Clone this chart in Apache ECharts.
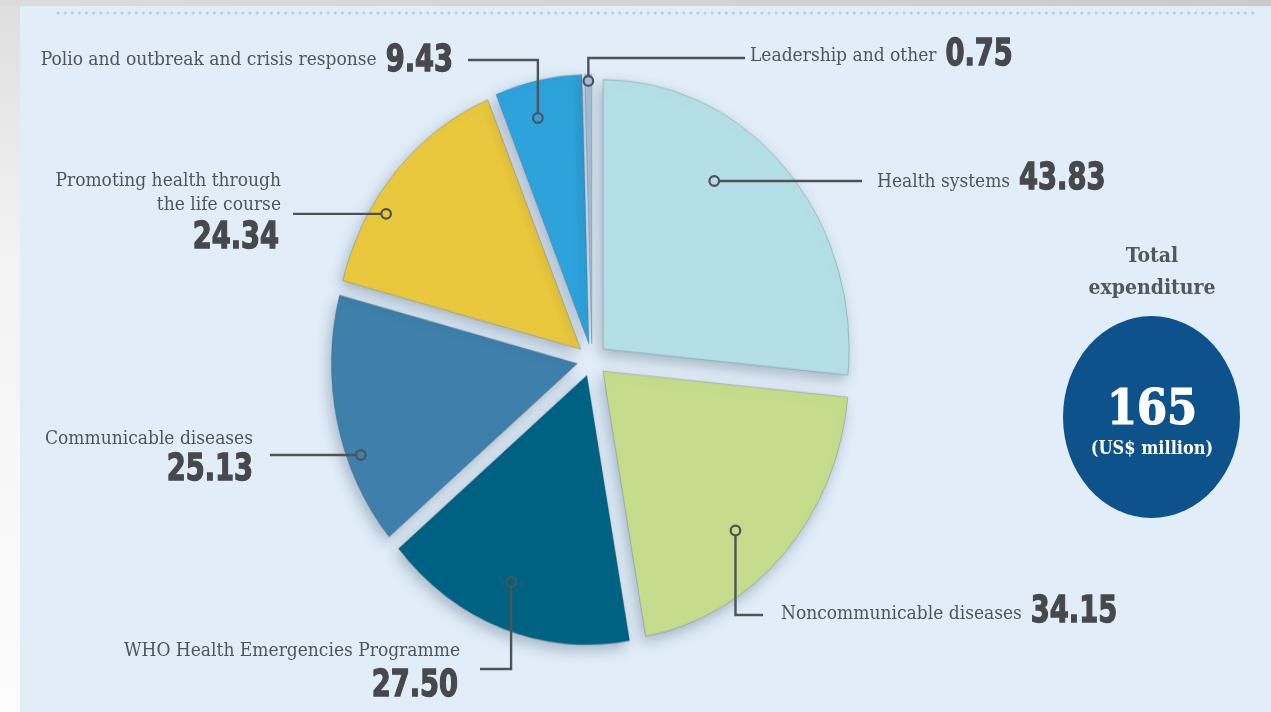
<!DOCTYPE html>
<html>
<head>
<meta charset="utf-8">
<title>Total expenditure by category</title>
<script src="https://cdn.jsdelivr.net/npm/echarts@6/dist/echarts.min.js"></script>
<style>
  html, body { margin: 0; padding: 0; width: 1271px; height: 712px; overflow: hidden; background: #ececec; }
  #bg {
    position: absolute; left: 0; top: 0; width: 1271px; height: 712px;
    background:
      linear-gradient(90deg, #dcdcdc 0px, #d2d2d2 60%, #cacaca 100%) top / 100% 6px no-repeat,
      linear-gradient(180deg, #dedede 0px, #f3f3f3 260px, #fcfcfc 712px) left / 20px 100% no-repeat,
      #e1eef9;
  }
  #pie, #overlay { position: absolute; left: 0; top: 0; width: 1271px; height: 712px; }
  /* the pie is drawn round, then stretched vertically into an ellipse */
  #pie { transform: scaleY(1.095); transform-origin: 592px 360px; }
</style>
</head>
<body>
<div id="bg"></div>
<div id="pie"></div>
<div id="overlay"></div>
<script>
// ---- data (US$ million) ----
const categories = [
  'Health systems',
  'Noncommunicable diseases',
  'WHO Health Emergencies Programme',
  'Communicable diseases',
  'Promoting health through the life course',
  'Polio and outbreak and crisis response',
  'Leadership and other'
];
const values = [43.83, 34.15, 27.50, 25.13, 24.34, 9.43, 0.75];
const totalLabel = '165';
const unitLabel = '(US$ million)';
const totalTitle = ['Total', 'expenditure'];

// ---- styling ----
const colors = ['#b4dfe7', '#c4dc8c', '#006283', '#3e80ab', '#e9c83e', '#2ea3db', '#a3bcd3'];
const CX = 592, CY = 360, R = 246, SY = 1.095, OFF = 15;
const TEXT_FONT = "'DejaVu Serif Condensed', 'DejaVu Serif', serif";
const NUM_FONT = "'DejaVu Sans Condensed', 'Liberation Sans Narrow', sans-serif";
const TEXT_SIZE = 19, NUM_SIZE = 37, NUM_SQUEEZE = 0.82, GAP = 9;
const TEXT_COLOR = '#515559', NUM_COLOR = '#47484b', LINE_COLOR = '#4e5358';

// where each leader line starts on its slice (fraction of the slice's sweep, fraction of radius)
// and how it runs out to its label
const leaderLayout = [
  { t: 0.376, f: 0.77, path: 'h', end: 862 },
  { t: 0.566, f: 0.80, path: 'v', elbow: 615, end: 763 },
  { t: 0.532, f: 0.826, path: 'v', elbow: 669, end: 480 },
  { t: 0.346, f: 0.943, path: 'h', end: 270 },
  { t: 0.333, f: 0.937, path: 'h', end: 293 },
  { t: 0.404, f: 0.864, path: 'v', elbow: 60, end: 468 },
  { t: 0.50, f: 0.975, path: 'v', elbow: 58, end: 745 }
];
// label placement: inline = name then value on one row; stacked = name row(s) with value below
const labelLayout = [
  { mode: 'inline', align: 'left', x: 877, y: 182, numY: 179 },
  { mode: 'inline', align: 'left', x: 781, y: 614, numY: 612 },
  { mode: 'stacked', x: 460, nameY: 651, lineGap: 24, numX: 458, numY: 686 },
  { mode: 'stacked', x: 253, nameY: 439, lineGap: 24, numX: 253, numY: 470 },
  { mode: 'stacked', x: 281, nameY: 181, lineGap: 24, numX: 279, numY: 238, breakAfter: 3 },
  { mode: 'inline', align: 'right', x: 453, y: 60, numY: 61 },
  { mode: 'inline', align: 'left', x: 750, y: 56, numY: 55 }
];

// ---- pie ----
const pieChart = echarts.init(document.getElementById('pie'), null, { renderer: 'canvas' });
pieChart.setOption({
  animation: false,
  series: [{
    type: 'pie',
    center: [CX, CY],
    radius: [0, R],
    startAngle: 90,
    clockwise: true,
    selectedMode: 'multiple',
    selectedOffset: OFF,
    silent: true,
    emphasis: { disabled: true },
    label: { show: false },
    labelLine: { show: false },
    itemStyle: {
      borderColor: 'rgba(60,90,110,0.28)',
      borderWidth: 1,
      shadowBlur: 14,
      shadowColor: 'rgba(30,50,80,0.3)',
      shadowOffsetX: -3,
      shadowOffsetY: 5
    },
    data: categories.map((name, i) => ({
      name: name,
      value: values[i],
      selected: true,
      itemStyle: { color: colors[i] },
      select: { itemStyle: { color: colors[i] } }
    }))
  }]
});

// ---- helpers ----
const total = values.reduce((a, b) => a + b, 0);
const rad = d => d * Math.PI / 180;
function anchorPoint(i, t, f) {
  let start = 0;
  for (let j = 0; j < i; j++) start += values[j];
  const a0 = start / total * 360;
  const a1 = (start + values[i]) / total * 360;
  const mid = (a0 + a1) / 2;
  const a = a0 + t * (a1 - a0);
  const u = f * R * Math.sin(rad(a)) + OFF * Math.sin(rad(mid));
  const v = -(f * R * Math.cos(rad(a)) + OFF * Math.cos(rad(mid)));
  return [CX + u, CY + v * SY];
}
const measureCtx = document.createElement('canvas').getContext('2d');
function textWidth(str, size, family, weight) {
  measureCtx.font = (weight || 'normal') + ' ' + size + 'px ' + family;
  return measureCtx.measureText(str).width;
}
function nameText(str, x, y, align) {
  return {
    type: 'text', x: x, y: y, silent: true, z: 12,
    style: { text: str, fontFamily: TEXT_FONT, fontSize: TEXT_SIZE, fill: TEXT_COLOR, align: align, verticalAlign: 'middle' }
  };
}
function numText(str, x, y, align) {
  return {
    type: 'text', x: x, y: y, scaleX: NUM_SQUEEZE, silent: true, z: 12,
    style: {
      text: str, fontFamily: NUM_FONT, fontWeight: 'bold', fontSize: NUM_SIZE,
      fill: NUM_COLOR, stroke: NUM_COLOR, lineWidth: 1.3, align: align, verticalAlign: 'middle'
    }
  };
}

const elements = [];

// dotted rule along the top
elements.push({
  type: 'line',
  shape: { x1: 58, y1: 13, x2: 1258, y2: 13 },
  style: { stroke: '#c3cbd3', lineWidth: 3, lineDash: [0.01, 7.1], lineCap: 'round' },
  silent: true
});

categories.forEach((name, i) => {
  const lay = leaderLayout[i];
  const [ax, ay] = anchorPoint(i, lay.t, lay.f);
  const pts = lay.path === 'h'
    ? [[ax, ay], [lay.end, ay]]
    : [[ax, ay], [ax, lay.elbow], [lay.end, lay.elbow]];
  elements.push({
    type: 'polyline', shape: { points: pts },
    style: { stroke: LINE_COLOR, lineWidth: 2.4, fill: null }, silent: true, z: 10
  });
  elements.push({
    type: 'circle', shape: { cx: ax, cy: ay, r: 4.8 },
    style: { stroke: LINE_COLOR, lineWidth: 2.2, fill: colors[i] }, silent: true, z: 11
  });

  const lab = labelLayout[i];
  const valueText = values[i].toFixed(2);
  if (lab.mode === 'inline') {
    if (lab.align === 'left') {
      const w = textWidth(name, TEXT_SIZE, TEXT_FONT);
      elements.push(nameText(name, lab.x, lab.y, 'left'));
      elements.push(numText(valueText, lab.x + w + GAP, lab.numY, 'left'));
    } else {
      const nw = textWidth(valueText, NUM_SIZE, NUM_FONT, 'bold') * NUM_SQUEEZE;
      elements.push(numText(valueText, lab.x, lab.numY, 'right'));
      elements.push(nameText(name, lab.x - nw - GAP, lab.y, 'right'));
    }
  } else {
    let lines = [name];
    if (lab.breakAfter) {
      const w = name.split(' ');
      lines = [w.slice(0, lab.breakAfter).join(' '), w.slice(lab.breakAfter).join(' ')];
    }
    lines.forEach((line, k) => elements.push(nameText(line, lab.x, lab.nameY + k * lab.lineGap, 'right')));
    elements.push(numText(valueText, lab.numX, lab.numY, 'right'));
  }
});

// total badge
elements.push({
  type: 'text', x: 1152, y: 273, silent: true,
  style: {
    text: totalTitle.join('\n'), align: 'center', verticalAlign: 'middle',
    fontFamily: TEXT_FONT, fontWeight: 'bold', fontSize: 21, lineHeight: 32, fill: '#54575b'
  }
});
elements.push({
  type: 'circle', x: 1151.5, y: 417, scaleY: 101 / 88.5,
  shape: { cx: 0, cy: 0, r: 88.5 },
  style: { fill: '#0d528b' }, silent: true
});
elements.push({
  type: 'text', x: 1152, y: 412, silent: true, z: 5,
  style: {
    text: totalLabel, align: 'center', verticalAlign: 'middle',
    fontFamily: TEXT_FONT, fontWeight: 'bold', fontSize: 48, fill: '#ffffff',
    stroke: '#ffffff', lineWidth: 1.2
  }
});
elements.push({
  type: 'text', x: 1152, y: 449, silent: true, z: 5,
  style: {
    text: unitLabel, align: 'center', verticalAlign: 'middle',
    fontFamily: TEXT_FONT, fontWeight: 'bold', fontSize: 18, fill: '#ffffff'
  }
});

const overlay = echarts.init(document.getElementById('overlay'), null, { renderer: 'canvas' });
overlay.setOption({ animation: false, graphic: { elements: elements } });
</script>
</body>
</html>
